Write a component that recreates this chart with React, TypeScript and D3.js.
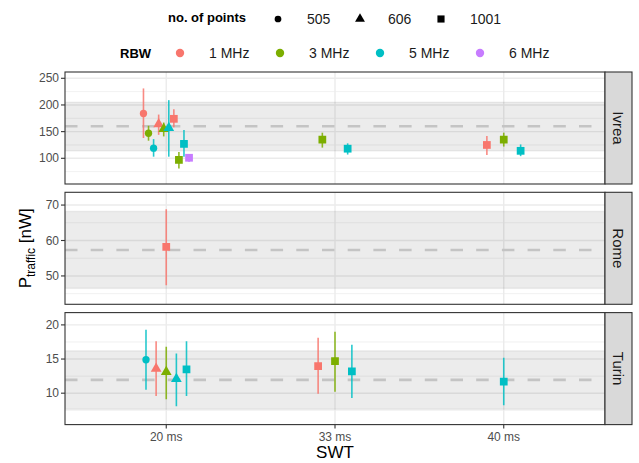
import React from "react";
import * as d3 from "d3";

const swtCategories = ["20 ms", "33 ms", "40 ms"];
const sites = ["Ivrea", "Rome", "Turin"];
const rbwLevels = ["1 MHz", "3 MHz", "5 MHz", "6 MHz"];
const rbwColors = ["#F8766D", "#7CAE00", "#00BFC4", "#C77CFF"];
const pointLevels = ["505", "606", "1001"];

// [swt, points, rbw, value, low, high]
type Row = [string, string, string, number, number, number];

const ivreaData: Row[] = [
  ["20 ms", "505", "1 MHz", 184, 138, 231],
  ["20 ms", "505", "3 MHz", 147, 133, 161],
  ["20 ms", "505", "5 MHz", 119, 103, 136],
  ["20 ms", "606", "1 MHz", 164, 144, 182],
  ["20 ms", "606", "3 MHz", 155, 141, 167],
  ["20 ms", "606", "5 MHz", 157, 103, 209],
  ["20 ms", "1001", "1 MHz", 174, 158, 192],
  ["20 ms", "1001", "3 MHz", 97, 81, 112],
  ["20 ms", "1001", "5 MHz", 127, 103, 153],
  ["20 ms", "1001", "6 MHz", 101, 93, 108],
  ["33 ms", "1001", "3 MHz", 135, 120, 148],
  ["33 ms", "1001", "5 MHz", 118, 107, 128],
  ["40 ms", "1001", "1 MHz", 125, 106, 142],
  ["40 ms", "1001", "3 MHz", 135, 122, 148],
  ["40 ms", "1001", "5 MHz", 114, 104, 126],
];

const romeData: Row[] = [["20 ms", "1001", "1 MHz", 58.2, 47.4, 68.8]];

const turinData: Row[] = [
  ["20 ms", "505", "5 MHz", 14.9, 10.5, 19.3],
  ["20 ms", "606", "1 MHz", 13.6, 9.6, 17.6],
  ["20 ms", "606", "3 MHz", 13.1, 9.1, 16.8],
  ["20 ms", "606", "5 MHz", 12.1, 8.1, 15.8],
  ["20 ms", "1001", "5 MHz", 13.5, 9.6, 17.6],
  ["33 ms", "1001", "1 MHz", 13.95, 9.9, 18.1],
  ["33 ms", "1001", "3 MHz", 14.7, 10.2, 19.0],
  ["33 ms", "1001", "5 MHz", 13.2, 9.3, 17.1],
  ["40 ms", "1001", "5 MHz", 11.7, 8.25, 15.2],
];

const siteData = [ivreaData, romeData, turinData];
const refMean = [160, 57.3, 11.95];
const bandLow = [114, 46.5, 7.65];
const bandHigh = [205, 68.2, 16.2];
const yLimits: [number, number][] = [
  [51.8, 261.8],
  [42, 73.6],
  [5.4, 21.8],
];
const majorTicks = [
  [100, 150, 200, 250],
  [50, 60, 70],
  [10, 15, 20],
];
const minorTicks = [
  [75, 125, 175, 225],
  [45, 55, 65],
  [7.5, 12.5, 17.5],
];

const W = 639;
const H = 463;
const left = 65;
const right = 605;
const panelTop0 = 72;
const panelH = 112;
const panelGap = 8.3;
const stripW = 27;
const font = "Liberation Sans, Arial, Helvetica, sans-serif";

const shapeTypes: Record<string, d3.SymbolType> = {
  "505": d3.symbolCircle,
  "606": d3.symbolTriangle,
  "1001": d3.symbolSquare,
};
const shapeSizes: Record<string, number> = { "505": 42, "606": 50, "1001": 60 };

function symbolPath(p: string, scale = 1) {
  return d3.symbol().type(shapeTypes[p]).size(shapeSizes[p] * scale)() as string;
}

export default function App() {
  // discrete positions like ggplot: expand 0.6 each side
  const xs = d3
    .scaleLinear()
    .domain([0.4, swtCategories.length + 0.6])
    .range([left, right]);
  const xPos = (c: string) => xs(swtCategories.indexOf(c) + 1);
  const dodgeW = 0.3 * (xs(2) - xs(1));
  const color = d3.scaleOrdinal<string, string>().domain(rbwLevels).range(rbwColors);

  const groupKey = (r: Row) => pointLevels.indexOf(r[1]) * 10 + rbwLevels.indexOf(r[2]);
  const bottomAll = panelTop0 + 2 * (panelH + panelGap) + panelH;

  return (
    <svg width={W} height={H} style={{ display: "block", position: "absolute", left: 0, top: 0 }} fontFamily={font}>
      <rect x={0} y={0} width={W} height={H} fill="#fff" />
      {/* Legend */}
      <g>
        <text x={168} y={22} fontSize={13} fontWeight="bold" fill="#000">no. of points</text>
        {pointLevels.map((p, i) => {
          const sx = [278, 360, 441][i];
          const tx = [307, 388, 470][i];
          return (
            <g key={p}>
              <path d={symbolPath(p, 0.85)} transform={`translate(${sx},${19})`} fill="#000" />
              <text x={tx} y={24} fontSize={14} fill="#1a1a1a">{p}</text>
            </g>
          );
        })}
        <text x={120} y={58} fontSize={13} fontWeight="bold" fill="#000">RBW</text>
        {rbwLevels.map((r, i) => (
          <g key={r}>
            <circle cx={180 + i * 100} cy={53} r={4.2} fill={color(r)} />
            <text x={209 + i * 100} y={58} fontSize={14} fill="#1a1a1a">{r}</text>
          </g>
        ))}
      </g>

      {sites.map((site, si) => {
        const top = panelTop0 + si * (panelH + panelGap);
        const y = d3.scaleLinear().domain(yLimits[si]).range([top + panelH, top]);
        const data = siteData[si];
        const byX = d3.group(data, (d) => d[0]);
        const clipId = `clip-${si}`;
        return (
          <g key={site}>
            <defs>
              <clipPath id={clipId}>
                <rect x={left} y={top} width={right - left} height={panelH} />
              </clipPath>
            </defs>
            <rect x={left} y={top} width={right - left} height={panelH} fill="#fff" />
            <g clipPath={`url(#${clipId})`}>
              {minorTicks[si].map((t) => (
                <line key={"mi" + t} x1={left} x2={right} y1={y(t)} y2={y(t)} stroke="#ebebeb" strokeWidth={0.7} />
              ))}
              {majorTicks[si].map((t) => (
                <line key={"ma" + t} x1={left} x2={right} y1={y(t)} y2={y(t)} stroke="#ebebeb" strokeWidth={1.4} />
              ))}
              {swtCategories.map((c) => (
                <line key={c} x1={xPos(c)} x2={xPos(c)} y1={top} y2={top + panelH} stroke="#ebebeb" strokeWidth={1.4} />
              ))}
              <rect
                x={left}
                width={right - left}
                y={y(bandHigh[si])}
                height={y(bandLow[si]) - y(bandHigh[si])}
                fill="#000"
                fillOpacity={0.075}
                stroke="#000"
                strokeOpacity={0.06}
                strokeWidth={1.5}
              />
              <line
                x1={left}
                x2={right}
                y1={y(refMean[si])}
                y2={y(refMean[si])}
                stroke="#c4c4c4"
                strokeWidth={2.6}
                strokeDasharray="12.5 13.2"
              />
              {Array.from(byX, ([cat, rows]) => {
                const sorted = [...rows].sort((a, b) => groupKey(a) - groupKey(b));
                const n = sorted.length;
                return sorted.map((r, i) => {
                  const cx = xPos(cat) + ((i + 0.5) / n - 0.5) * dodgeW;
                  const c = color(r[2]);
                  return (
                    <g key={cat + i}>
                      <line x1={cx} x2={cx} y1={y(r[4])} y2={y(r[5])} stroke={c} strokeWidth={1.6} strokeOpacity={0.85} />
                      <path d={symbolPath(r[1])} transform={`translate(${cx},${y(r[3])})`} fill={c} />
                    </g>
                  );
                });
              })}
            </g>
            <rect x={left} y={top} width={right - left} height={panelH} fill="none" stroke="#333" strokeWidth={1.1} />
            {/* y axis */}
            {majorTicks[si].map((t) => (
              <g key={"yt" + t}>
                <line x1={left - 4} x2={left} y1={y(t)} y2={y(t)} stroke="#333" strokeWidth={1.1} />
                <text x={left - 6} y={y(t)} dy="0.35em" textAnchor="end" fontSize={12} fill="#4d4d4d">
                  {t}
                </text>
              </g>
            ))}
            {/* strip */}
            <rect x={right} y={top} width={stripW} height={panelH} fill="#d9d9d9" stroke="#333" strokeWidth={1.1} />
            <text
              transform={`translate(${right + stripW / 2},${top + panelH / 2}) rotate(90)`}
              textAnchor="middle"
              dy="0.35em"
              fontSize={15}
              fill="#1a1a1a"
            >
              {site}
            </text>
          </g>
        );
      })}

      {/* x axis */}
      {swtCategories.map((c) => (
        <g key={c}>
          <line x1={xPos(c)} x2={xPos(c)} y1={bottomAll} y2={bottomAll + 4} stroke="#333" strokeWidth={1.1} />
          <text x={xPos(c)} y={bottomAll + 16} textAnchor="middle" fontSize={12} fill="#4d4d4d">
            {c}
          </text>
        </g>
      ))}
      <text x={(left + right) / 2} y={458} textAnchor="middle" fontSize={17} fill="#000">SWT</text>
      <text transform={`translate(31,${(panelTop0 + bottomAll) / 2}) rotate(-90)`} textAnchor="middle" fontSize={17} fill="#000">
        <tspan>P</tspan>
        <tspan fontSize={12} dy={4}>traffic</tspan>
        <tspan dy={-4}> [nW]</tspan>
      </text>
    </svg>
  );
}
